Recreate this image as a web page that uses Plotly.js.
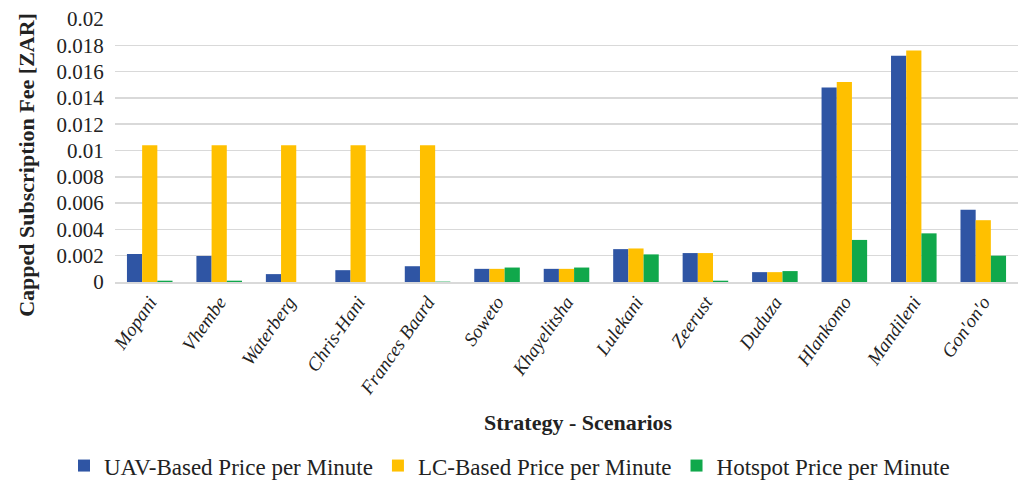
<!DOCTYPE html>
<html><head><meta charset="utf-8">
<script src="https://cdn.plot.ly/plotly-3.0.1.min.js"></script>
<style>body{margin:0;background:#fff}#chart{width:1019px;height:480px}</style>
</head><body><div id="chart"></div>
<script>
const categories = ["Mopani","Vhembe","Waterberg","Chris-Hani","Frances Baard","Soweto","Khayelitsha","Lulekani","Zeerust","Duduza","Hlankomo","Mandileni","Gon\u2032on\u2032o"];
const uavPrice = [0.00213,0.00198,0.0006,0.0009,0.0012,0.001,0.001,0.0025,0.0022,0.00075,0.0148,0.0172,0.0055];
const lcPrice = [0.0104,0.0104,0.0104,0.0104,0.0104,0.001,0.001,0.00255,0.0022,0.00075,0.0152,0.0176,0.0047];
const hotspotPrice = [0.0001,0.0001,0,0,0.00003,0.0011,0.0011,0.0021,0.0001,0.00083,0.0032,0.0037,0.002];
const seriesNames = ["UAV-Based Price per Minute","LC-Based Price per Minute","Hotspot Price per Minute"];
const yTicks = [0,0.002,0.004,0.006,0.008,0.01,0.012,0.014,0.016,0.018,0.02];
const yTickText = ["0","0.002","0.004","0.006","0.008","0.01","0.012","0.014","0.016","0.018","0.02"];

const serif = "Liberation Serif";
const colors = ["#2F55A4","#FFC000","#10A84B"];
const data = [uavPrice, lcPrice, hotspotPrice].map((v,i)=>({
  type:"bar", x:categories, y:v, name:seriesNames[i],
  marker:{color:colors[i]}
}));
const layout = {
  width:1019, height:480,
  margin:{l:115, r:1, t:19, b:198},
  paper_bgcolor:"#fff", plot_bgcolor:"#fff",
  barmode:"group", bargap:0.344, bargroupgap:0,
  font:{family:serif, color:"#222", size:17},
  xaxis:{
    automargin:false,
    tickangle:-55, tickfont:{family:serif, size:19, style:"italic", color:"#222"},
    showgrid:false, showline:true, linecolor:"#d9d9d9", linewidth:1.5, ticks:""
  },
  yaxis:{
    automargin:false,
    range:[0,0.02], tickvals:yTicks, ticktext:yTickText,
    tickfont:{family:serif, size:21, color:"#222"},
    ticks:"outside", ticklen:6, tickcolor:"rgba(0,0,0,0)",
    showgrid:true, gridcolor:"#d9d9d9", gridwidth:1.5, zeroline:false
  },
  annotations:[{
    text:"<b>Strategy - Scenarios</b>", xref:"paper", yref:"paper", x:0.513, y:-0.536,
    xanchor:"center", yanchor:"middle", showarrow:false,
    font:{family:serif, size:22, color:"#222"}
  },{
    text:"<b>Capped Subscription Fee [ZAR]</b>", xref:"paper", yref:"paper", x:-0.0976, y:0.445,
    xanchor:"center", yanchor:"middle", showarrow:false, textangle:-90,
    font:{family:serif, size:22, color:"#222"}
  }],
  legend:{orientation:"h", x:0.5, xanchor:"center", xref:"container", yref:"container", y:0.03, yanchor:"middle",
    font:{family:serif, size:23, color:"#222"}, itemwidth:30, traceorder:"normal"},
  showlegend:true
};
Plotly.newPlot("chart", data, layout, {staticPlot:true});
</script></body></html>
